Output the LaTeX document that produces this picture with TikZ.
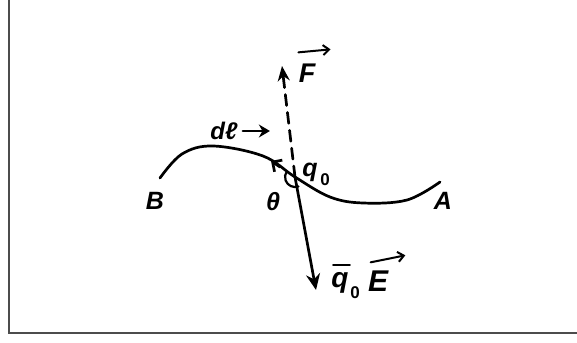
\documentclass[tikz,border=0pt]{standalone}
\usepackage{fontspec}
\setmainfont{Liberation Sans}
\usetikzlibrary{arrows.meta}
\begin{document}
\begin{tikzpicture}[x=1pt,y=-1pt,line width=2.7pt,line cap=round,
  lbl/.style={font=\fontsize{25}{27}\selectfont\bfseries\itshape,inner sep=0pt},
  sub/.style={font=\fontsize{17}{18}\selectfont\bfseries,inner sep=0pt},
  vecarrow/.style={line width=2pt,-{Straight Barb[length=6pt,width=10pt]}}]
\useasboundingbox (0,0) rectangle (577,342);
\draw[line width=1.6pt,draw=black!70,line cap=butt] (9,0) -- (9,333) -- (577,333);
% path B -> A
\coordinate (Bend) at (160,178);
\coordinate (Aend) at (440,182);
\coordinate (q) at (295,177);
\draw plot[smooth,tension=0.6] coordinates {(Bend) (182,154) (213,146) (263,156) (q) (330,197) (363,203) (407,200) (Aend)};
% arrow on the path
\coordinate (dlt) at (271,161);
\draw[-{Straight Barb[length=7pt,width=14pt]}] (280,167) -- (dlt);
% dashed force
\coordinate (Ftip) at (282,66);
\draw[dash pattern=on 11pt off 7pt,-{Stealth[length=15pt,width=12pt]}] (q) -- (Ftip);
% solid -q0E
\coordinate (Etip) at (316,290);
\draw[-{Stealth[length=16pt,width=14pt]}] (q) -- (Etip);
% angle mark
\draw[line width=2.2pt] (q) ++(70:10) arc[start angle=70,end angle=215,radius=10];
% labels
\node[lbl,font=\fontsize{27}{29}\selectfont\bfseries\itshape] (F) at (307,73) {F};
\draw[vecarrow] ([shift={(1,-10)}]F.north west) -- ([shift={(14,-13)}]F.north east);
\node[lbl,font=\fontsize{24}{26}\selectfont\bfseries\itshape] (dl) at (224,131) {dℓ};
\draw[-{Stealth[length=11pt,width=13pt]}] ([xshift=4pt]dl.east) -- ++(27,0);
\node[lbl] (q0) at (310,172) {q};
\node[sub,anchor=west] (q0s) at ([xshift=0pt,yshift=3pt]q0.south east) {0};
\node[lbl] (B) at (155,201) {B};
\node[lbl] (th) at (273,202) {θ};
\node[lbl] (A) at (443,201) {A};
\node[lbl,font=\fontsize{28}{30}\selectfont\bfseries\itshape] (qb) at (340,283) {q};
\draw[line width=2pt] ([shift={(3,-6)}]qb.north west) -- ([shift={(0,-6)}]qb.north east);
\node[sub,anchor=west] (qbs) at ([xshift=-1pt,yshift=2pt]qb.south east) {0};
\node[lbl,font=\fontsize{30}{32}\selectfont\bfseries\itshape] (E) at (378,281) {E};
\draw[vecarrow] ([shift={(4,-7)}]E.north west) -- ([shift={(16,-14)}]E.north east);
\end{tikzpicture}
\end{document}
